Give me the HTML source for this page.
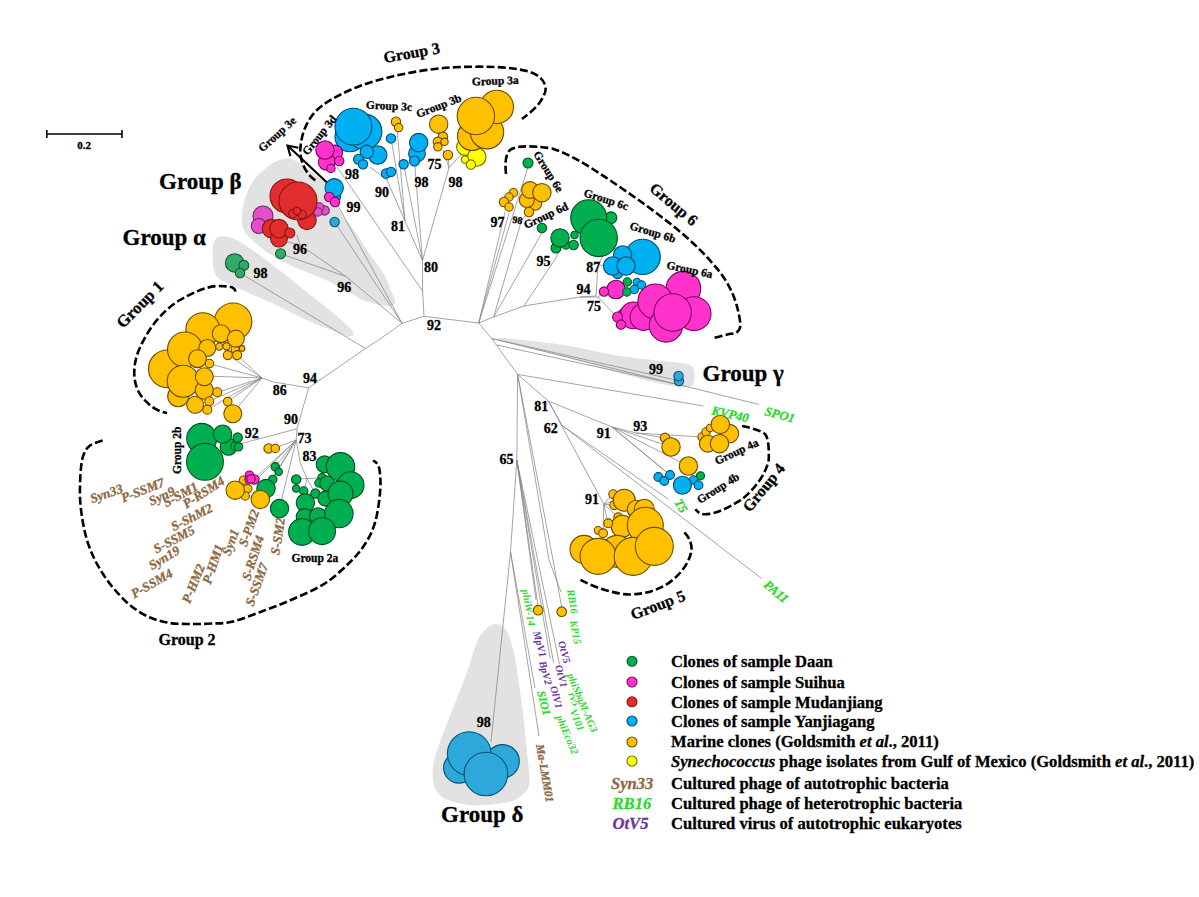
<!DOCTYPE html><html><head><meta charset="utf-8"><style>html,body{margin:0;padding:0;background:#fff;}svg{display:block;}text{font-family:"Liberation Serif","Times New Roman",serif;stroke-width:0.3px;}</style></head><body>
<svg width="1199" height="897" viewBox="0 0 1199 897">
<rect width="1199" height="897" fill="#fff"/>
<path d="M287.0,158.5 C283.2,159.0 277.3,160.2 272.0,163.5 C266.7,166.8 259.2,173.6 255.0,178.6 C250.8,183.6 248.9,188.6 246.8,193.6 C244.7,198.6 243.4,204.1 242.6,208.7 C241.8,213.3 241.7,217.3 242.0,221.0 C242.3,224.7 242.6,227.6 244.5,231.0 C246.4,234.4 249.1,237.4 253.5,241.4 C257.9,245.4 264.3,250.6 271.0,254.8 C277.7,259.0 285.4,263.0 293.6,266.8 C301.8,270.6 311.5,273.5 320.4,277.5 C329.3,281.5 340.0,287.3 347.0,291.0 C354.0,294.7 357.2,297.6 362.4,299.9 C367.6,302.2 373.2,303.5 378.0,304.6 C382.8,305.7 388.1,306.9 391.0,306.5 C393.9,306.1 394.8,303.6 395.2,302.0 C395.6,300.4 395.4,301.3 393.6,296.8 C391.8,292.3 388.2,282.0 384.3,275.0 C380.4,268.0 375.1,261.9 370.2,254.6 C365.2,247.3 359.8,238.7 354.6,231.2 C349.4,223.7 343.3,216.8 339.0,209.4 C334.7,202.0 331.9,192.1 328.8,187.0 C325.7,181.9 324.0,181.7 320.4,178.6 C316.8,175.5 311.2,171.6 307.0,168.6 C302.8,165.6 298.3,162.2 295.0,160.5 C291.7,158.8 290.8,158.0 287.0,158.5 Z" fill="#E2E2E2"/>
<path d="M220.0,236.5 C216.7,237.2 214.7,239.9 213.5,243.0 C212.3,246.1 212.7,250.8 212.7,255.0 C212.7,259.2 212.8,264.3 213.5,268.0 C214.2,271.7 214.8,274.5 217.0,277.0 C219.2,279.5 220.7,279.9 226.8,282.9 C232.9,285.9 244.6,291.0 253.5,295.0 C262.4,299.0 271.4,302.8 280.3,307.0 C289.2,311.2 298.1,316.3 307.0,320.3 C315.9,324.3 327.0,328.3 333.8,331.0 C340.6,333.7 344.8,336.0 348.0,336.6 C351.2,337.2 352.9,335.8 353.3,334.5 C353.7,333.2 353.8,332.5 350.5,329.0 C347.2,325.5 341.1,319.7 333.8,313.6 C326.6,307.5 315.9,299.3 307.0,292.2 C298.1,285.1 289.2,277.7 280.3,270.8 C271.4,263.9 261.3,256.2 253.5,250.8 C245.7,245.4 239.0,240.9 233.4,238.5 C227.8,236.1 223.3,235.8 220.0,236.5 Z" fill="#E2E2E2"/>
<path d="M503.0,338.0 C513.3,338.8 544.1,342.0 563.6,345.0 C583.1,348.0 600.6,353.0 620.0,356.0 C639.4,359.0 668.2,361.4 680.0,363.0 C691.8,364.6 688.6,364.0 691.0,365.5 C693.4,367.0 693.8,369.2 694.3,372.0 C694.8,374.8 694.9,379.5 694.0,382.0 C693.1,384.5 693.0,386.2 689.0,386.8 C685.0,387.4 681.5,387.7 670.0,385.5 C658.5,383.3 637.7,378.1 620.0,373.4 C602.3,368.6 581.4,362.0 563.6,357.0 C545.8,352.0 523.7,346.2 513.4,343.5 C503.1,340.8 503.7,341.4 502.0,340.5 C500.3,339.6 492.7,337.2 503.0,338.0 Z" fill="#E2E2E2"/>
<path d="M494.9,624.1 C491.4,624.1 488.0,627.0 485.0,630.0 C482.0,633.0 480.2,634.5 477.0,642.0 C473.8,649.5 470.3,663.2 466.0,675.0 C461.7,686.8 455.6,701.4 451.3,712.6 C447.0,723.8 443.0,733.3 440.0,742.0 C437.0,750.7 434.3,757.8 433.3,765.0 C432.3,772.2 432.6,779.7 434.0,785.0 C435.4,790.3 438.0,794.0 442.0,797.0 C446.0,800.0 452.2,801.6 458.0,803.0 C463.8,804.4 470.0,805.4 477.0,805.5 C484.0,805.6 493.6,804.5 500.0,803.5 C506.4,802.5 510.9,802.0 515.4,799.7 C519.9,797.5 524.6,793.6 527.0,790.0 C529.4,786.4 529.5,784.3 529.5,778.0 C529.5,771.7 528.1,762.9 527.0,752.0 C525.9,741.1 524.7,726.3 523.0,712.6 C521.3,698.9 518.7,680.7 517.0,670.0 C515.3,659.3 514.6,655.2 512.8,648.5 C511.0,641.8 509.0,634.1 506.0,630.0 C503.0,625.9 498.4,624.1 494.9,624.1 Z" fill="#E2E2E2"/>
<g fill="none" stroke="#858585" stroke-width="0.75">
<polyline points="424.0,316.3 478.7,323.0"/>
<polyline points="424.0,316.3 402.0,323.3"/>
<polyline points="402.0,323.3 378.6,340.0 365.5,348.5 308.6,387.8"/>
<polyline points="365.5,348.5 240.0,273.0"/>
<polyline points="402.0,323.3 345.9,276.5 280.6,253.7"/>
<polyline points="345.9,276.5 300.0,245.0 297.0,235.0"/>
<polyline points="300.0,245.0 280.0,240.0"/>
<polyline points="402.0,323.3 334.6,222.0"/>
<polyline points="402.0,323.3 336.0,202.0"/>
<polyline points="422.6,291.0 337.0,167.0"/>
<polyline points="424.0,316.3 422.6,291.0 422.5,260.5"/>
<polyline points="422.5,260.5 405.0,221.0"/>
<polyline points="405.0,221.0 387.0,180.0 370.0,167.0"/>
<polyline points="387.0,180.0 388.0,172.0"/>
<polyline points="405.0,221.0 397.0,128.0"/>
<polyline points="405.0,221.0 391.0,138.0"/>
<polyline points="422.5,260.5 403.6,164.0"/>
<polyline points="422.5,260.5 414.5,161.0"/>
<polyline points="422.5,260.5 449.0,167.7 465.0,150.0"/>
<polyline points="449.0,167.7 443.0,150.0"/>
<polyline points="449.0,167.7 448.0,155.0"/>
<polyline points="478.7,323.0 505.0,212.0"/>
<polyline points="478.7,323.0 509.0,213.0"/>
<polyline points="478.7,323.0 493.7,317.0"/>
<polyline points="493.7,317.0 521.0,222.0 528.0,212.0"/>
<polyline points="478.7,323.0 528.0,167.0"/>
<polyline points="493.7,317.0 523.8,306.0"/>
<polyline points="493.7,317.0 541.9,233.0"/>
<polyline points="523.8,306.0 555.6,258.6 560.0,248.0"/>
<polyline points="523.8,306.0 580.0,297.0"/>
<polyline points="580.0,297.0 596.0,296.0 598.0,265.0 612.0,240.0"/>
<polyline points="598.0,265.0 612.0,266.0"/>
<polyline points="580.0,297.0 598.0,297.0 617.0,317.0"/>
<polyline points="598.0,297.0 604.0,292.0"/>
<polyline points="308.6,387.8 273.5,382.0 262.0,378.0"/>
<polyline points="262.0,378.0 237.0,355.0"/>
<polyline points="262.0,378.0 228.0,355.0"/>
<polyline points="262.0,378.0 209.0,363.6"/>
<polyline points="262.0,378.0 204.5,376.0"/>
<polyline points="262.0,378.0 218.4,392.0"/>
<polyline points="262.0,378.0 209.5,401.0"/>
<polyline points="262.0,378.0 228.0,401.0"/>
<polyline points="262.0,378.0 207.0,409.6"/>
<polyline points="262.0,378.0 233.0,413.0"/>
<polyline points="308.6,387.8 297.0,428.8"/>
<polyline points="297.0,428.8 243.4,443.0 238.0,445.0"/>
<polyline points="297.0,428.8 296.2,440.0"/>
<polyline points="296.2,440.0 300.4,463.5 307.0,478.5"/>
<polyline points="296.2,440.0 254.0,479.0"/>
<polyline points="296.2,440.0 248.0,488.0"/>
<polyline points="296.2,440.0 275.0,448.0"/>
<polyline points="296.2,440.0 273.0,479.0"/>
<polyline points="296.2,440.0 275.0,467.0"/>
<polyline points="296.2,440.0 266.0,488.0"/>
<polyline points="296.2,440.0 279.5,508.0"/>
<polyline points="307.0,478.5 296.0,479.0"/>
<polyline points="307.0,478.5 304.0,491.0"/>
<polyline points="307.0,478.5 315.0,493.0"/>
<polyline points="307.0,478.5 322.0,478.0"/>
<polyline points="478.7,323.0 491.7,338.5 517.6,374.4"/>
<polyline points="491.7,338.5 680.0,381.0"/>
<polyline points="496.7,345.0 680.0,385.0"/>
<polyline points="491.7,338.5 758.8,404.4"/>
<polyline points="517.6,374.4 703.6,406.0"/>
<polyline points="517.6,374.4 548.6,401.2 612.0,427.0 636.0,433.0 665.0,438.0"/>
<polyline points="636.0,433.0 702.0,437.0"/>
<polyline points="612.0,427.0 671.0,447.0"/>
<polyline points="612.0,427.0 688.0,466.0"/>
<polyline points="612.0,427.0 670.0,475.0"/>
<polyline points="612.0,427.0 682.0,485.0"/>
<polyline points="548.6,401.2 562.0,425.4 668.4,499.2"/>
<polyline points="562.0,425.4 761.7,578.5"/>
<polyline points="548.6,401.2 603.8,504.2"/>
<polyline points="517.6,374.4 516.8,460.0 510.5,552.0 491.0,742.0"/>
<polyline points="510.5,552.0 539.0,736.0"/>
<polyline points="510.5,552.0 535.0,688.0"/>
<polyline points="516.8,460.0 536.0,600.0"/>
<polyline points="516.8,460.0 538.0,606.0"/>
<polyline points="516.8,460.0 550.2,658.6"/>
<polyline points="516.8,460.0 553.7,663.3"/>
<polyline points="516.8,460.0 559.6,664.5"/>
<polyline points="517.6,374.4 549.0,560.0 561.0,592.0"/>
<polyline points="517.6,374.4 553.0,560.0 561.7,607.0"/>
<polyline points="603.8,504.2 613.0,494.0"/>
<polyline points="603.8,504.2 618.0,499.0"/>
<polyline points="603.8,504.2 614.0,505.0"/>
<polyline points="603.8,504.2 618.0,517.0"/>
<polyline points="603.8,504.2 608.0,523.0"/>
<polyline points="603.8,504.2 603.0,533.0"/>
</g>
<g fill="none" stroke="#000" stroke-width="2.6" stroke-dasharray="8 3.2">
<path d="M315.4,180.3 C305,174 300,160 300.3,150 C301,135 306,122 315,112 C325,102 335,97 350,90 C375,79 415,70 450,67.5 C480,66 510,66 530,72 C545,77 548,88 544,95 C540,105 530,113 522,119"/>
<path d="M506,173.8 C505,165 505,155 510,150 C515,146 530,145 552,148.4 C575,156 600,173 640,201 C665,219 694,241 713,264 C728,280 738,300 740.5,325.4 C740,332 735,334 730.5,333.8 C725,335 718,337 713.8,338"/>
<path d="M235.4,291.7 C235,288 233,286 217,286 C205,287 192,293 180,300 C160,312 145,333 137,355 C131,375 135,392 146.8,402 C152,408 160,412 167,413"/>
<path d="M102.6,440.5 C100.5,441.3 93.2,443.1 90.0,445.5 C86.8,447.9 85.0,450.9 83.5,455.0 C82.0,459.1 81.4,463.0 80.8,470.0 C80.2,477.0 79.7,488.7 80.0,497.0 C80.3,505.3 81.3,512.8 82.5,520.0 C83.7,527.2 85.1,533.7 87.0,540.0 C88.9,546.3 91.3,552.3 94.0,558.0 C96.7,563.7 99.5,568.7 103.0,574.0 C106.5,579.3 110.3,584.7 115.0,590.0 C119.7,595.3 125.2,601.4 131.0,606.0 C136.8,610.6 143.5,614.7 150.0,617.5 C156.5,620.3 163.2,621.9 170.0,623.0 C176.8,624.1 184.2,623.9 191.0,624.0 C197.8,624.1 204.2,623.9 211.0,623.5 C217.8,623.1 223.2,623.9 231.9,621.8 C240.6,619.7 252.6,614.9 263.0,611.0 C273.4,607.1 284.0,603.2 294.4,598.5 C304.8,593.8 316.2,589.2 325.6,583.0 C335.0,576.8 343.9,568.2 350.6,561.5 C357.3,554.8 361.8,549.3 366.0,542.5 C370.2,535.7 373.2,529.5 375.6,520.6 C378.0,511.8 379.7,497.8 380.3,489.4 C380.9,481.0 380.1,474.3 379.5,470.0 C378.9,465.7 378.1,465.1 377.0,463.5 C375.9,461.9 373.7,461.0 373.0,460.5"/>
<path d="M742,426 C752,428 762,431 765.5,434.5 C769,440 769,452 768.7,460 C766,475 752,492 740.6,500.2 C728,508 716,514 705,514.3 C700,514 697,512 695.5,509.2"/>
<path d="M684.4,532.3 C690,538 692,545 691.5,550 C690,562 680,576 666.4,584.5 C655,591 645,594 630,594.5 C615,594 595,588 580,579.5"/>
</g>
<g stroke="#000" stroke-width="2.1" fill="none"><line x1="328" y1="183.6" x2="287.5" y2="145.5"/><polyline points="290.4,156.1 287.5,145.5 298.3,147.7"/></g>
<g stroke="#000" stroke-width="1.6"><line x1="46.8" y1="134" x2="122" y2="134"/><line x1="46.8" y1="130" x2="46.8" y2="138"/><line x1="122" y1="130" x2="122" y2="138"/></g>
<text x="84.2" y="149" font-size="11" font-weight="bold" text-anchor="middle" stroke="#000">0.2</text>
<g stroke-width="1.1">
<circle cx="465.0" cy="147.0" r="8.4" fill="#FFFF00" stroke="#707000"/>
<circle cx="476.8" cy="157.0" r="9.2" fill="#FFFF00" stroke="#707000"/>
<circle cx="465.0" cy="159.6" r="3.7" fill="#FFFF00" stroke="#707000"/>
<circle cx="470.9" cy="164.6" r="4.7" fill="#FFFF00" stroke="#707000"/>
<circle cx="472.0" cy="136.0" r="14.5" fill="#FFC000" stroke="#6E4B00"/>
<circle cx="487.0" cy="132.2" r="16.7" fill="#FFC000" stroke="#6E4B00"/>
<circle cx="496.8" cy="106.9" r="16.7" fill="#FFC000" stroke="#6E4B00"/>
<circle cx="475.9" cy="116.0" r="18.7" fill="#FFC000" stroke="#6E4B00"/>
<circle cx="438.7" cy="124.2" r="9.2" fill="#FFC000" stroke="#6E4B00"/>
<circle cx="443.0" cy="136.8" r="4.7" fill="#FFC000" stroke="#6E4B00"/>
<circle cx="437.9" cy="141.8" r="4.7" fill="#FFC000" stroke="#6E4B00"/>
<circle cx="444.5" cy="141.8" r="3.7" fill="#FFC000" stroke="#6E4B00"/>
<circle cx="437.9" cy="146.8" r="4.2" fill="#FFC000" stroke="#6E4B00"/>
<circle cx="447.9" cy="155.0" r="4.7" fill="#FFC000" stroke="#6E4B00"/>
<circle cx="417.0" cy="153.5" r="8.4" fill="#00B0F0" stroke="#004A75"/>
<circle cx="418.7" cy="142.6" r="9.2" fill="#00B0F0" stroke="#004A75"/>
<circle cx="414.5" cy="161.0" r="5.0" fill="#00B0F0" stroke="#004A75"/>
<circle cx="403.6" cy="164.3" r="4.7" fill="#00B0F0" stroke="#004A75"/>
<circle cx="396.0" cy="121.7" r="4.7" fill="#FFC000" stroke="#6E4B00"/>
<circle cx="398.6" cy="127.6" r="4.2" fill="#FFC000" stroke="#6E4B00"/>
<circle cx="391.0" cy="138.4" r="4.7" fill="#00B0F0" stroke="#004A75"/>
<circle cx="386.0" cy="173.5" r="4.7" fill="#00B0F0" stroke="#004A75"/>
<circle cx="391.0" cy="171.9" r="4.7" fill="#00B0F0" stroke="#004A75"/>
<circle cx="377.7" cy="155.0" r="9.2" fill="#00B0F0" stroke="#004A75"/>
<circle cx="350.0" cy="136.8" r="15.0" fill="#00B0F0" stroke="#004A75"/>
<circle cx="364.3" cy="131.7" r="17.6" fill="#00B0F0" stroke="#004A75"/>
<circle cx="353.4" cy="126.7" r="18.4" fill="#00B0F0" stroke="#004A75"/>
<circle cx="366.8" cy="151.8" r="6.7" fill="#00B0F0" stroke="#004A75"/>
<circle cx="358.5" cy="159.3" r="5.0" fill="#00B0F0" stroke="#004A75"/>
<circle cx="363.0" cy="164.3" r="4.7" fill="#00B0F0" stroke="#004A75"/>
<circle cx="335.0" cy="152.6" r="7.5" fill="#FF33CC" stroke="#7A005E"/>
<circle cx="326.7" cy="161.8" r="8.4" fill="#FF33CC" stroke="#7A005E"/>
<circle cx="325.0" cy="150.0" r="9.2" fill="#FF33CC" stroke="#7A005E"/>
<circle cx="339.2" cy="161.0" r="4.7" fill="#FF33CC" stroke="#7A005E"/>
<circle cx="330.9" cy="168.5" r="4.2" fill="#FF33CC" stroke="#7A005E"/>
<circle cx="337.0" cy="197.0" r="3.5" fill="#00B0F0" stroke="#004A75"/>
<circle cx="334.2" cy="187.8" r="9.2" fill="#00B0F0" stroke="#004A75"/>
<circle cx="329.2" cy="197.0" r="4.7" fill="#FF33CC" stroke="#7A005E"/>
<circle cx="335.0" cy="202.0" r="4.7" fill="#FF33CC" stroke="#7A005E"/>
<circle cx="334.6" cy="222.0" r="4.7" fill="#2DA8DA" stroke="#0A4F78"/>
<circle cx="324.6" cy="210.4" r="4.7" fill="#E150C8" stroke="#7A1F6A"/>
<circle cx="319.6" cy="207.0" r="4.2" fill="#E150C8" stroke="#7A1F6A"/>
<circle cx="318.0" cy="212.0" r="4.2" fill="#E150C8" stroke="#7A1F6A"/>
<circle cx="287.0" cy="196.0" r="17.0" fill="#E12D2D" stroke="#861414"/>
<circle cx="307.0" cy="220.4" r="9.2" fill="#E12D2D" stroke="#861414"/>
<circle cx="298.0" cy="201.0" r="19.0" fill="#E12D2D" stroke="#861414"/>
<circle cx="292.8" cy="213.7" r="4.2" fill="#E12D2D" stroke="#861414"/>
<circle cx="302.0" cy="214.5" r="4.2" fill="#E12D2D" stroke="#861414"/>
<circle cx="297.0" cy="211.0" r="3.7" fill="#E12D2D" stroke="#861414"/>
<circle cx="263.0" cy="216.0" r="10.0" fill="#E150C8" stroke="#7A1F6A"/>
<circle cx="258.8" cy="226.0" r="7.5" fill="#E150C8" stroke="#7A1F6A"/>
<circle cx="271.4" cy="228.6" r="9.2" fill="#E12D2D" stroke="#861414"/>
<circle cx="279.0" cy="238.6" r="8.4" fill="#E12D2D" stroke="#861414"/>
<circle cx="279.0" cy="228.6" r="9.2" fill="#E12D2D" stroke="#861414"/>
<circle cx="289.8" cy="233.0" r="5.0" fill="#E12D2D" stroke="#861414"/>
<circle cx="280.6" cy="253.7" r="5.0" fill="#32AA69" stroke="#0B5A2A"/>
<circle cx="234.6" cy="262.9" r="9.2" fill="#32AA69" stroke="#0B5A2A"/>
<circle cx="243.8" cy="265.4" r="5.0" fill="#32AA69" stroke="#0B5A2A"/>
<circle cx="240.0" cy="273.0" r="4.7" fill="#32AA69" stroke="#0B5A2A"/>
<circle cx="528.0" cy="163.0" r="5.0" fill="#00B050" stroke="#00501E"/>
<circle cx="513.4" cy="192.7" r="4.2" fill="#FFC000" stroke="#6E4B00"/>
<circle cx="509.0" cy="197.0" r="4.2" fill="#FFC000" stroke="#6E4B00"/>
<circle cx="504.0" cy="202.0" r="4.7" fill="#FFC000" stroke="#6E4B00"/>
<circle cx="509.0" cy="207.0" r="4.2" fill="#FFC000" stroke="#6E4B00"/>
<circle cx="535.0" cy="203.6" r="6.7" fill="#FFC000" stroke="#6E4B00"/>
<circle cx="526.8" cy="200.0" r="7.5" fill="#FFC000" stroke="#6E4B00"/>
<circle cx="530.0" cy="190.0" r="8.4" fill="#FFC000" stroke="#6E4B00"/>
<circle cx="541.9" cy="192.7" r="9.2" fill="#FFC000" stroke="#6E4B00"/>
<circle cx="529.0" cy="212.0" r="4.7" fill="#FFC000" stroke="#6E4B00"/>
<circle cx="541.9" cy="228.0" r="4.7" fill="#00B050" stroke="#00501E"/>
<circle cx="556.0" cy="248.0" r="5.0" fill="#00B050" stroke="#00501E"/>
<circle cx="566.0" cy="245.0" r="4.2" fill="#00B050" stroke="#00501E"/>
<circle cx="573.6" cy="245.0" r="4.7" fill="#00B050" stroke="#00501E"/>
<circle cx="574.5" cy="235.0" r="3.7" fill="#00B050" stroke="#00501E"/>
<circle cx="560.0" cy="237.9" r="9.2" fill="#00B050" stroke="#00501E"/>
<circle cx="611.0" cy="217.8" r="5.9" fill="#00B050" stroke="#00501E"/>
<circle cx="588.7" cy="217.8" r="18.0" fill="#00B050" stroke="#00501E"/>
<circle cx="598.7" cy="237.9" r="18.7" fill="#00B050" stroke="#00501E"/>
<circle cx="642.7" cy="256.9" r="17.6" fill="#00B0F0" stroke="#004A75"/>
<circle cx="617.6" cy="273.6" r="5.0" fill="#00B0F0" stroke="#004A75"/>
<circle cx="622.6" cy="255.0" r="9.2" fill="#00B0F0" stroke="#004A75"/>
<circle cx="612.6" cy="266.0" r="9.2" fill="#00B0F0" stroke="#004A75"/>
<circle cx="626.0" cy="266.0" r="9.2" fill="#00B0F0" stroke="#004A75"/>
<circle cx="616.0" cy="289.5" r="9.2" fill="#FF33CC" stroke="#7A005E"/>
<circle cx="604.0" cy="291.6" r="4.7" fill="#FF33CC" stroke="#7A005E"/>
<circle cx="627.3" cy="282.0" r="4.2" fill="#00B050" stroke="#00501E"/>
<circle cx="626.8" cy="292.0" r="4.2" fill="#00B050" stroke="#00501E"/>
<circle cx="636.9" cy="282.0" r="3.7" fill="#00B0F0" stroke="#004A75"/>
<circle cx="641.5" cy="285.0" r="4.2" fill="#00B0F0" stroke="#004A75"/>
<circle cx="634.3" cy="289.5" r="4.2" fill="#00B0F0" stroke="#004A75"/>
<circle cx="683.4" cy="288.7" r="17.3" fill="#FF33CC" stroke="#7A005E"/>
<circle cx="694.0" cy="313.7" r="17.0" fill="#FF33CC" stroke="#7A005E"/>
<circle cx="625.0" cy="317.0" r="8.4" fill="#FF33CC" stroke="#7A005E"/>
<circle cx="633.5" cy="315.4" r="13.4" fill="#FF33CC" stroke="#7A005E"/>
<circle cx="643.5" cy="317.0" r="13.4" fill="#FF33CC" stroke="#7A005E"/>
<circle cx="655.4" cy="301.5" r="17.5" fill="#FF33CC" stroke="#7A005E"/>
<circle cx="666.0" cy="325.4" r="16.7" fill="#FF33CC" stroke="#7A005E"/>
<circle cx="672.7" cy="312.5" r="18.7" fill="#FF33CC" stroke="#7A005E"/>
<circle cx="617.6" cy="317.0" r="5.0" fill="#FF33CC" stroke="#7A005E"/>
<circle cx="621.0" cy="324.6" r="4.7" fill="#FF33CC" stroke="#7A005E"/>
<circle cx="233.1" cy="321.7" r="18.7" fill="#FFC000" stroke="#6E4B00"/>
<circle cx="202.8" cy="329.7" r="17.0" fill="#FFC000" stroke="#6E4B00"/>
<circle cx="178.2" cy="396.3" r="10.5" fill="#FFC000" stroke="#6E4B00"/>
<circle cx="167.3" cy="368.8" r="18.8" fill="#FFC000" stroke="#6E4B00"/>
<circle cx="185.0" cy="349.5" r="17.5" fill="#FFC000" stroke="#6E4B00"/>
<circle cx="183.2" cy="381.2" r="16.0" fill="#FFC000" stroke="#6E4B00"/>
<circle cx="195.2" cy="404.8" r="8.5" fill="#FFC000" stroke="#6E4B00"/>
<circle cx="219.3" cy="346.6" r="3.6" fill="#FFC000" stroke="#6E4B00"/>
<circle cx="226.5" cy="346.2" r="3.6" fill="#FFC000" stroke="#6E4B00"/>
<circle cx="242.0" cy="348.4" r="2.8" fill="#FFC000" stroke="#6E4B00"/>
<circle cx="235.0" cy="349.3" r="4.0" fill="#FFC000" stroke="#6E4B00"/>
<circle cx="221.1" cy="333.7" r="8.9" fill="#FFC000" stroke="#6E4B00"/>
<circle cx="235.8" cy="338.6" r="8.5" fill="#FFC000" stroke="#6E4B00"/>
<circle cx="227.8" cy="355.1" r="4.5" fill="#FFC000" stroke="#6E4B00"/>
<circle cx="237.2" cy="355.1" r="4.5" fill="#FFC000" stroke="#6E4B00"/>
<circle cx="207.3" cy="348.0" r="8.5" fill="#FFC000" stroke="#6E4B00"/>
<circle cx="209.4" cy="363.6" r="4.3" fill="#FFC000" stroke="#6E4B00"/>
<circle cx="197.5" cy="358.7" r="8.9" fill="#FFC000" stroke="#6E4B00"/>
<circle cx="204.3" cy="390.2" r="9.0" fill="#FFC000" stroke="#6E4B00"/>
<circle cx="204.3" cy="376.7" r="9.0" fill="#FFC000" stroke="#6E4B00"/>
<circle cx="217.3" cy="392.2" r="4.5" fill="#FFC000" stroke="#6E4B00"/>
<circle cx="209.3" cy="401.3" r="4.5" fill="#FFC000" stroke="#6E4B00"/>
<circle cx="207.3" cy="409.8" r="4.5" fill="#FFC000" stroke="#6E4B00"/>
<circle cx="227.7" cy="401.5" r="4.3" fill="#FFC000" stroke="#6E4B00"/>
<circle cx="232.8" cy="413.8" r="9.0" fill="#FFC000" stroke="#6E4B00"/>
<circle cx="201.7" cy="438.4" r="15.0" fill="#00B050" stroke="#00501E"/>
<circle cx="228.5" cy="446.8" r="8.4" fill="#00B050" stroke="#00501E"/>
<circle cx="222.6" cy="434.2" r="9.2" fill="#00B050" stroke="#00501E"/>
<circle cx="205.0" cy="461.8" r="18.4" fill="#00B050" stroke="#00501E"/>
<circle cx="237.7" cy="437.6" r="4.7" fill="#00B050" stroke="#00501E"/>
<circle cx="235.0" cy="446.0" r="4.2" fill="#00B050" stroke="#00501E"/>
<circle cx="238.5" cy="446.8" r="4.2" fill="#00B050" stroke="#00501E"/>
<circle cx="268.6" cy="448.4" r="4.7" fill="#FFC000" stroke="#6E4B00"/>
<circle cx="275.3" cy="448.4" r="4.2" fill="#FFC000" stroke="#6E4B00"/>
<circle cx="243.5" cy="480.2" r="4.2" fill="#FFC000" stroke="#6E4B00"/>
<circle cx="247.7" cy="488.6" r="4.2" fill="#FFC000" stroke="#6E4B00"/>
<circle cx="245.2" cy="496.0" r="4.2" fill="#FFC000" stroke="#6E4B00"/>
<circle cx="235.2" cy="490.2" r="9.2" fill="#FFC000" stroke="#6E4B00"/>
<circle cx="249.4" cy="475.2" r="4.2" fill="#FF33CC" stroke="#7A005E"/>
<circle cx="254.4" cy="479.4" r="4.7" fill="#FF33CC" stroke="#7A005E"/>
<circle cx="248.6" cy="479.4" r="3.7" fill="#FF33CC" stroke="#7A005E"/>
<circle cx="251.0" cy="479.0" r="4.2" fill="#FF33CC" stroke="#7A005E"/>
<circle cx="272.8" cy="479.4" r="4.2" fill="#00B050" stroke="#00501E"/>
<circle cx="275.3" cy="466.8" r="4.2" fill="#00B050" stroke="#00501E"/>
<circle cx="278.7" cy="471.8" r="3.7" fill="#00B050" stroke="#00501E"/>
<circle cx="266.0" cy="488.6" r="9.2" fill="#00B050" stroke="#00501E"/>
<circle cx="260.3" cy="499.4" r="9.2" fill="#FFC000" stroke="#6E4B00"/>
<circle cx="279.5" cy="508.6" r="9.2" fill="#00B050" stroke="#00501E"/>
<circle cx="324.6" cy="464.3" r="8.4" fill="#00B050" stroke="#00501E"/>
<circle cx="340.5" cy="466.8" r="14.2" fill="#00B050" stroke="#00501E"/>
<circle cx="350.6" cy="485.2" r="13.4" fill="#00B050" stroke="#00501E"/>
<circle cx="296.2" cy="479.4" r="4.7" fill="#00B050" stroke="#00501E"/>
<circle cx="296.2" cy="488.6" r="3.7" fill="#00B050" stroke="#00501E"/>
<circle cx="303.7" cy="491.0" r="4.2" fill="#00B050" stroke="#00501E"/>
<circle cx="322.0" cy="477.7" r="4.2" fill="#00B050" stroke="#00501E"/>
<circle cx="319.0" cy="483.0" r="4.2" fill="#00B050" stroke="#00501E"/>
<circle cx="327.2" cy="483.5" r="7.5" fill="#00B050" stroke="#00501E"/>
<circle cx="315.4" cy="493.6" r="4.7" fill="#00B050" stroke="#00501E"/>
<circle cx="325.5" cy="498.6" r="7.5" fill="#00B050" stroke="#00501E"/>
<circle cx="305.4" cy="502.8" r="9.2" fill="#00B050" stroke="#00501E"/>
<circle cx="304.6" cy="517.0" r="8.4" fill="#00B050" stroke="#00501E"/>
<circle cx="318.0" cy="516.2" r="8.4" fill="#00B050" stroke="#00501E"/>
<circle cx="340.5" cy="493.6" r="12.5" fill="#00B050" stroke="#00501E"/>
<circle cx="338.9" cy="513.6" r="14.2" fill="#00B050" stroke="#00501E"/>
<circle cx="302.0" cy="532.0" r="13.4" fill="#00B050" stroke="#00501E"/>
<circle cx="322.1" cy="531.2" r="13.4" fill="#00B050" stroke="#00501E"/>
<circle cx="678.9" cy="381.0" r="4.7" fill="#2DA8DA" stroke="#0A4F78"/>
<circle cx="678.5" cy="376.0" r="4.7" fill="#2DA8DA" stroke="#0A4F78"/>
<circle cx="665.0" cy="437.8" r="4.7" fill="#FFC000" stroke="#6E4B00"/>
<circle cx="671.0" cy="447.0" r="9.2" fill="#FFC000" stroke="#6E4B00"/>
<circle cx="702.0" cy="437.0" r="4.2" fill="#FFC000" stroke="#6E4B00"/>
<circle cx="706.0" cy="432.0" r="4.2" fill="#FFC000" stroke="#6E4B00"/>
<circle cx="710.0" cy="428.0" r="3.7" fill="#FFC000" stroke="#6E4B00"/>
<circle cx="707.8" cy="443.7" r="8.4" fill="#FFC000" stroke="#6E4B00"/>
<circle cx="729.5" cy="433.6" r="9.2" fill="#FFC000" stroke="#6E4B00"/>
<circle cx="720.3" cy="424.4" r="9.2" fill="#FFC000" stroke="#6E4B00"/>
<circle cx="719.5" cy="443.7" r="9.2" fill="#FFC000" stroke="#6E4B00"/>
<circle cx="688.4" cy="466.0" r="9.2" fill="#FFC000" stroke="#6E4B00"/>
<circle cx="658.3" cy="477.0" r="4.4" fill="#00B0F0" stroke="#004A75"/>
<circle cx="664.3" cy="481.0" r="4.4" fill="#00B0F0" stroke="#004A75"/>
<circle cx="670.0" cy="475.0" r="4.4" fill="#00B0F0" stroke="#004A75"/>
<circle cx="693.5" cy="480.0" r="4.2" fill="#00B0F0" stroke="#004A75"/>
<circle cx="700.5" cy="475.7" r="4.0" fill="#00B050" stroke="#00501E"/>
<circle cx="698.5" cy="485.2" r="4.4" fill="#00B0F0" stroke="#004A75"/>
<circle cx="682.4" cy="485.2" r="9.0" fill="#00B0F0" stroke="#004A75"/>
<circle cx="613.2" cy="494.2" r="4.4" fill="#FFC000" stroke="#6E4B00"/>
<circle cx="617.8" cy="499.2" r="4.4" fill="#FFC000" stroke="#6E4B00"/>
<circle cx="614.2" cy="505.2" r="4.4" fill="#FFC000" stroke="#6E4B00"/>
<circle cx="624.2" cy="500.2" r="11.0" fill="#FFC000" stroke="#6E4B00"/>
<circle cx="636.3" cy="509.2" r="9.0" fill="#FFC000" stroke="#6E4B00"/>
<circle cx="644.3" cy="509.2" r="10.0" fill="#FFC000" stroke="#6E4B00"/>
<circle cx="618.2" cy="517.3" r="4.4" fill="#FFC000" stroke="#6E4B00"/>
<circle cx="622.2" cy="526.3" r="11.0" fill="#FFC000" stroke="#6E4B00"/>
<circle cx="645.3" cy="525.3" r="18.0" fill="#FFC000" stroke="#6E4B00"/>
<circle cx="608.2" cy="523.3" r="4.4" fill="#FFC000" stroke="#6E4B00"/>
<circle cx="598.1" cy="530.3" r="3.8" fill="#FFC000" stroke="#6E4B00"/>
<circle cx="603.1" cy="533.3" r="4.4" fill="#FFC000" stroke="#6E4B00"/>
<circle cx="617.2" cy="551.4" r="16.0" fill="#FFC000" stroke="#6E4B00"/>
<circle cx="584.0" cy="549.4" r="14.0" fill="#FFC000" stroke="#6E4B00"/>
<circle cx="598.1" cy="556.4" r="18.0" fill="#FFC000" stroke="#6E4B00"/>
<circle cx="633.2" cy="556.4" r="19.0" fill="#FFC000" stroke="#6E4B00"/>
<circle cx="654.3" cy="546.4" r="19.0" fill="#FFC000" stroke="#6E4B00"/>
<circle cx="538.2" cy="610.2" r="4.8" fill="#FFC000" stroke="#6E4B00"/>
<circle cx="561.7" cy="611.7" r="4.8" fill="#FFC000" stroke="#6E4B00"/>
<circle cx="459.0" cy="767.7" r="15.4" fill="#2DA8DA" stroke="#0A4F78"/>
<circle cx="502.6" cy="761.3" r="16.7" fill="#2DA8DA" stroke="#0A4F78"/>
<circle cx="469.2" cy="753.6" r="21.8" fill="#2DA8DA" stroke="#0A4F78"/>
<circle cx="485.9" cy="774.0" r="21.8" fill="#2DA8DA" stroke="#0A4F78"/>
</g>
<text x="434" y="329.5" font-size="14" font-weight="bold" fill="#000" stroke="#000" text-anchor="middle">92</text>
<text x="431" y="272" font-size="14" font-weight="bold" fill="#000" stroke="#000" text-anchor="middle">80</text>
<text x="398" y="230.5" font-size="14" font-weight="bold" fill="#000" stroke="#000" text-anchor="middle">81</text>
<text x="352" y="178.6" font-size="14" font-weight="bold" fill="#000" stroke="#000" text-anchor="middle">98</text>
<text x="353.5" y="212" font-size="14" font-weight="bold" fill="#000" stroke="#000" text-anchor="middle">99</text>
<text x="382" y="197" font-size="14" font-weight="bold" fill="#000" stroke="#000" text-anchor="middle">90</text>
<text x="421.5" y="187" font-size="14" font-weight="bold" fill="#000" stroke="#000" text-anchor="middle">98</text>
<text x="434.5" y="169.4" font-size="14" font-weight="bold" fill="#000" stroke="#000" text-anchor="middle">75</text>
<text x="455.4" y="187" font-size="14" font-weight="bold" fill="#000" stroke="#000" text-anchor="middle">98</text>
<text x="497.5" y="227" font-size="14" font-weight="bold" fill="#000" stroke="#000" text-anchor="middle">97</text>
<text x="543.5" y="265.5" font-size="14" font-weight="bold" fill="#000" stroke="#000" text-anchor="middle">95</text>
<text x="593.3" y="272" font-size="14" font-weight="bold" fill="#000" stroke="#000" text-anchor="middle">87</text>
<text x="594" y="310.8" font-size="14" font-weight="bold" fill="#000" stroke="#000" text-anchor="middle">75</text>
<text x="300" y="253.7" font-size="14" font-weight="bold" fill="#000" stroke="#000" text-anchor="middle">96</text>
<text x="344.3" y="292" font-size="14" font-weight="bold" fill="#000" stroke="#000" text-anchor="middle">96</text>
<text x="260.5" y="278" font-size="14" font-weight="bold" fill="#000" stroke="#000" text-anchor="middle">98</text>
<text x="310" y="382.8" font-size="14" font-weight="bold" fill="#000" stroke="#000" text-anchor="middle">94</text>
<text x="279.8" y="395.3" font-size="14" font-weight="bold" fill="#000" stroke="#000" text-anchor="middle">86</text>
<text x="291" y="423.7" font-size="14" font-weight="bold" fill="#000" stroke="#000" text-anchor="middle">90</text>
<text x="251.8" y="438" font-size="14" font-weight="bold" fill="#000" stroke="#000" text-anchor="middle">92</text>
<text x="304.5" y="443" font-size="14" font-weight="bold" fill="#000" stroke="#000" text-anchor="middle">73</text>
<text x="309.5" y="461" font-size="14" font-weight="bold" fill="#000" stroke="#000" text-anchor="middle">83</text>
<text x="541.3" y="411.2" font-size="14" font-weight="bold" fill="#000" stroke="#000" text-anchor="middle">81</text>
<text x="550.7" y="433" font-size="14" font-weight="bold" fill="#000" stroke="#000" text-anchor="middle">62</text>
<text x="603.8" y="438" font-size="14" font-weight="bold" fill="#000" stroke="#000" text-anchor="middle">91</text>
<text x="640.2" y="431.3" font-size="14" font-weight="bold" fill="#000" stroke="#000" text-anchor="middle">93</text>
<text x="656" y="374.4" font-size="14" font-weight="bold" fill="#000" stroke="#000" text-anchor="middle">99</text>
<text x="592" y="504.2" font-size="14" font-weight="bold" fill="#000" stroke="#000" text-anchor="middle">91</text>
<text x="506.4" y="464" font-size="14" font-weight="bold" fill="#000" stroke="#000" text-anchor="middle">65</text>
<text x="483.7" y="726.7" font-size="14" font-weight="bold" fill="#000" stroke="#000" text-anchor="middle">98</text>
<text x="583.5" y="293.6" font-size="14" font-weight="bold" fill="#000" stroke="#000" text-anchor="middle">94</text>
<text transform="translate(517,223.5) rotate(8)" font-size="10" font-weight="bold" fill="#000" stroke="#000" text-anchor="middle">98</text>
<text transform="translate(472,85.5) rotate(-2)" font-size="11.5" font-weight="bold" fill="#000" stroke="#000">Group 3a</text>
<text transform="translate(418,118) rotate(-21)" font-size="11.5" font-weight="bold" fill="#000" stroke="#000">Group 3b</text>
<text transform="translate(365.8,108.5) rotate(3)" font-size="11.5" font-weight="bold" fill="#000" stroke="#000">Group 3c</text>
<text transform="translate(307.5,156) rotate(-51)" font-size="11.5" font-weight="bold" fill="#000" stroke="#000">Group 3d</text>
<text transform="translate(262.5,152.5) rotate(-42)" font-size="11.5" font-weight="bold" fill="#000" stroke="#000">Group 3e</text>
<text transform="translate(533,154) rotate(58)" font-size="11.5" font-weight="bold" fill="#000" stroke="#000">Group 6e</text>
<text transform="translate(526,229) rotate(-25)" font-size="11.5" font-weight="bold" fill="#000" stroke="#000">Group 6d</text>
<text transform="translate(583,196) rotate(18)" font-size="11.5" font-weight="bold" fill="#000" stroke="#000">Group 6c</text>
<text transform="translate(629,229) rotate(17)" font-size="11.5" font-weight="bold" fill="#000" stroke="#000">Group 6b</text>
<text transform="translate(666,268.5) rotate(12)" font-size="11.5" font-weight="bold" fill="#000" stroke="#000">Group 6a</text>
<text transform="translate(717,465) rotate(-25)" font-size="11.5" font-weight="bold" fill="#000" stroke="#000">Group 4a</text>
<text transform="translate(700,504) rotate(-32)" font-size="11.5" font-weight="bold" fill="#000" stroke="#000">Group 4b</text>
<text x="291.5" y="562" font-size="11.5" font-weight="bold" fill="#000" stroke="#000">Group 2a</text>
<text transform="translate(180.5,474) rotate(-90)" font-size="11.5" font-weight="bold" fill="#000" stroke="#000">Group 2b</text>
<text transform="translate(384.5,63) rotate(-10)" font-size="16" font-weight="bold" fill="#000" stroke="#000">Group 3</text>
<text transform="translate(648.5,190) rotate(40)" font-size="16" font-weight="bold" fill="#000" stroke="#000">Group 6</text>
<text transform="translate(123,329) rotate(-45)" font-size="16.5" font-weight="bold" fill="#000" stroke="#000">Group 1</text>
<text x="158.5" y="645" font-size="16" font-weight="bold" fill="#000" stroke="#000">Group 2</text>
<text transform="translate(750,513) rotate(-51)" font-size="16" font-weight="bold" fill="#000" stroke="#000">Group 4</text>
<text transform="translate(633,620) rotate(-20.5)" font-size="16" font-weight="bold" fill="#000" stroke="#000">Group 5</text>
<text x="159" y="188.5" font-size="23" font-weight="bold" fill="#000" stroke="#000">Group β</text>
<text x="122.5" y="244.5" font-size="23" font-weight="bold" fill="#000" stroke="#000">Group α</text>
<text x="702.5" y="381" font-size="23" font-weight="bold" fill="#000" stroke="#000">Group γ</text>
<text x="441" y="822" font-size="23" font-weight="bold" fill="#000" stroke="#000">Group δ</text>
<text transform="translate(91.9,503.2) rotate(-19)" font-size="13.2" font-weight="bold" font-style="italic" fill="#8E6942" stroke="#8E6942">Syn33</text>
<text transform="translate(123.2,502.5) rotate(-21.5)" font-size="13.2" font-weight="bold" font-style="italic" fill="#8E6942" stroke="#8E6942">P-SSM7</text>
<text transform="translate(151.3,505.7) rotate(-25)" font-size="13.2" font-weight="bold" font-style="italic" fill="#8E6942" stroke="#8E6942">Syn9</text>
<text transform="translate(166.3,507.5) rotate(-29)" font-size="13.2" font-weight="bold" font-style="italic" fill="#8E6942" stroke="#8E6942">S-SM1</text>
<text transform="translate(186.3,508.8) rotate(-33)" font-size="13.2" font-weight="bold" font-style="italic" fill="#8E6942" stroke="#8E6942">P-RSM4</text>
<text transform="translate(173.8,531.3) rotate(-27)" font-size="13.2" font-weight="bold" font-style="italic" fill="#8E6942" stroke="#8E6942">S-ShM2</text>
<text transform="translate(156.3,553.8) rotate(-28)" font-size="13.2" font-weight="bold" font-style="italic" fill="#8E6942" stroke="#8E6942">S-SSM5</text>
<text transform="translate(151.9,570.2) rotate(-31)" font-size="13.2" font-weight="bold" font-style="italic" fill="#8E6942" stroke="#8E6942">Syn19</text>
<text transform="translate(134.3,598.6) rotate(-30)" font-size="13.2" font-weight="bold" font-style="italic" fill="#8E6942" stroke="#8E6942">P-SSM4</text>
<text transform="translate(189.8,604.3) rotate(-68)" font-size="13.2" font-weight="bold" font-style="italic" fill="#8E6942" stroke="#8E6942">P-HM2</text>
<text transform="translate(210.4,585) rotate(-71)" font-size="13.2" font-weight="bold" font-style="italic" fill="#8E6942" stroke="#8E6942">P-HM1</text>
<text transform="translate(230,556.5) rotate(-70)" font-size="13.2" font-weight="bold" font-style="italic" fill="#8E6942" stroke="#8E6942">Syn1</text>
<text transform="translate(246.5,547.4) rotate(-70)" font-size="13.2" font-weight="bold" font-style="italic" fill="#8E6942" stroke="#8E6942">S-PM2</text>
<text transform="translate(250,581.2) rotate(-72)" font-size="13.2" font-weight="bold" font-style="italic" fill="#8E6942" stroke="#8E6942">S-RSM4</text>
<text transform="translate(253.2,607.1) rotate(-70)" font-size="13.2" font-weight="bold" font-style="italic" fill="#8E6942" stroke="#8E6942">S-SSM7</text>
<text transform="translate(279.3,555.5) rotate(-81)" font-size="13.2" font-weight="bold" font-style="italic" fill="#8E6942" stroke="#8E6942">S-SM2</text>
<text transform="translate(711,414.5) rotate(12)" font-size="12.8" font-weight="bold" font-style="italic" fill="#2DD82D" stroke="#2DD82D">KVP40</text>
<text transform="translate(764,415) rotate(15)" font-size="12.8" font-weight="bold" font-style="italic" fill="#2DD82D" stroke="#2DD82D">SPO1</text>
<text transform="translate(674,502) rotate(60)" font-size="12.5" font-weight="bold" font-style="italic" fill="#2DD82D" stroke="#2DD82D">T5</text>
<text transform="translate(763,586) rotate(40)" font-size="12.8" font-weight="bold" font-style="italic" fill="#2DD82D" stroke="#2DD82D">PA11</text>
<text transform="translate(567,590) rotate(80)" font-size="10.5" font-weight="bold" font-style="italic" fill="#2DD82D">RB16</text>
<text transform="translate(570,621) rotate(80)" font-size="10.5" font-weight="bold" font-style="italic" fill="#2DD82D">KP15</text>
<text transform="translate(522,590) rotate(80)" font-size="10.5" font-weight="bold" font-style="italic" fill="#2DD82D">phiW-14</text>
<text transform="translate(533,632) rotate(75)" font-size="10.5" font-weight="bold" font-style="italic" fill="#6A35A0">MpV1</text>
<text transform="translate(539,662) rotate(75)" font-size="10.5" font-weight="bold" font-style="italic" fill="#6A35A0">BpV2</text>
<text transform="translate(537,692) rotate(75)" font-size="11.5" font-weight="bold" font-style="italic" fill="#2DD82D" stroke="#2DD82D">SIO1</text>
<text transform="translate(558,642) rotate(75)" font-size="10.5" font-weight="bold" font-style="italic" fill="#6A35A0">OtV5</text>
<text transform="translate(555,666) rotate(75)" font-size="10.5" font-weight="bold" font-style="italic" fill="#6A35A0">OtV1</text>
<text transform="translate(550,687) rotate(75)" font-size="10.5" font-weight="bold" font-style="italic" fill="#6A35A0">OlV1</text>
<text transform="translate(567,675) rotate(67)" font-size="10.5" font-weight="bold" font-style="italic" fill="#2DD82D">phiSboM-AG3</text>
<text transform="translate(568,694) rotate(67)" font-size="10.5" font-weight="bold" font-style="italic" fill="#2DD82D">rv5</text>
<text transform="translate(569.5,711) rotate(67)" font-size="10.5" font-weight="bold" font-style="italic" fill="#2DD82D">V101</text>
<text transform="translate(556,717) rotate(67)" font-size="10.5" font-weight="bold" font-style="italic" fill="#2DD82D">phiEco32</text>
<text transform="translate(536,745) rotate(80)" font-size="11.5" font-weight="bold" font-style="italic" fill="#8E6942" stroke="#8E6942">Ma-LMM01</text>
<g stroke-width="1.1">
<circle cx="632" cy="661.3" r="5" fill="#00B050" stroke="#00501E"/>
<circle cx="632" cy="682" r="5" fill="#FF33CC" stroke="#7A005E"/>
<circle cx="632" cy="701.8" r="5" fill="#E12D2D" stroke="#861414"/>
<circle cx="632" cy="721" r="5" fill="#00B0F0" stroke="#004A75"/>
<circle cx="632" cy="742" r="5" fill="#FFC000" stroke="#6E4B00"/>
<circle cx="632" cy="761" r="5" fill="#FFFF00" stroke="#707000"/>
</g>
<text x="671" y="667" font-size="16.6" font-weight="bold" stroke="#000">Clones of sample Daan</text>
<text x="671" y="687.5" font-size="16.6" font-weight="bold" stroke="#000">Clones of sample Suihua</text>
<text x="671" y="707.5" font-size="16.6" font-weight="bold" stroke="#000">Clones of sample Mudanjiang</text>
<text x="671" y="727" font-size="16.6" font-weight="bold" stroke="#000">Clones of sample Yanjiagang</text>
<text x="671" y="747" font-size="16.6" font-weight="bold" stroke="#000">Marine clones (Goldsmith <tspan font-style="italic">et al</tspan>., 2011)</text>
<text x="671" y="766.5" font-size="16.6" font-weight="bold" stroke="#000"><tspan font-style="italic">Synechococcus</tspan> phage isolates from Gulf of Mexico (Goldsmith <tspan font-style="italic">et al</tspan>., 2011)</text>
<text x="671" y="789" font-size="16.6" font-weight="bold" stroke="#000">Cultured phage of autotrophic bacteria</text>
<text x="671" y="809" font-size="16.6" font-weight="bold" stroke="#000">Cultured phage of heterotrophic bacteria</text>
<text x="671" y="829" font-size="16.6" font-weight="bold" stroke="#000">Cultured virus of autotrophic eukaryotes</text>
<text x="611" y="789" font-size="16.6" font-weight="bold" font-style="italic" fill="#8E6942" stroke="#8E6942">Syn33</text>
<text x="612.5" y="809" font-size="16.6" font-weight="bold" font-style="italic" fill="#2DD82D" stroke="#2DD82D">RB16</text>
<text x="612.5" y="829" font-size="16.6" font-weight="bold" font-style="italic" fill="#6A35A0" stroke="#6A35A0">OtV5</text>
</svg></body></html>
